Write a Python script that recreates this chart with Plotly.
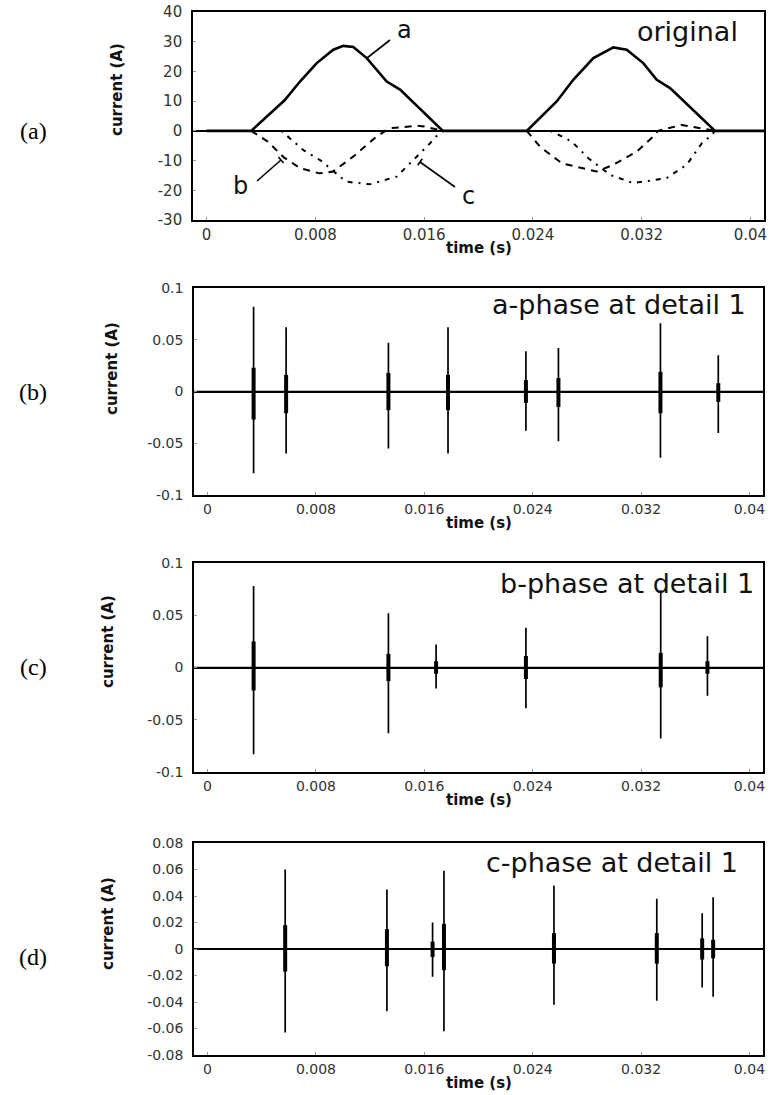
import plotly.graph_objects as go

W, H = 776, 1095

# ---------------- data ----------------
# Panel (a): original three-phase currents
a_t = [0.0, 0.00328, 0.00572, 0.00687, 0.0081, 0.00932, 0.01006, 0.01079, 0.01178,
       0.01276, 0.01325, 0.01423, 0.01738, 0.02355, 0.02575, 0.02697, 0.02845,
       0.02992, 0.0309, 0.03212, 0.03311, 0.03409, 0.0374, 0.041]
a_v = [0, 0, 10.2, 16.6, 22.8, 27.3, 28.6, 28.2, 24.5,
       19.4, 16.6, 13.9, 0, 0, 9.9, 17.2, 24.5,
       28.1, 27.3, 22.8, 17.2, 14.4, 0, 0]

b_t = [0.00328, 0.0045, 0.0057, 0.0069, 0.0083, 0.0093, 0.0108, 0.0125, 0.0135,
       0.0155, 0.0160, 0.01738, None,
       0.02355, 0.02452, 0.02612, 0.02869, 0.02992, 0.03164, 0.03286, 0.0332,
       0.03495, 0.0374]
b_v = [0, -3.6, -9.0, -12.6, -14.3, -13.7, -8.6, -1.9, 0.9,
       1.7, 1.5, 0, None,
       0, -5.3, -10.9, -13.7, -11.4, -7.0, -1.9, 0,
       2.0, 0]

c_t = [0.0055, 0.0071, 0.0084, 0.01025, 0.0120, 0.01398, 0.01643, 0.0171, 0.01738, None,
       0.0253, 0.02686, 0.02808, 0.02967, 0.03139, 0.03384, 0.03532, 0.03642, 0.03703, 0.0374]
c_v = [0, -6.4, -10.0, -17.1, -18.0, -15.4, -4.2, -0.8, 0, None,
       0, -3.6, -9.2, -14.8, -17.6, -15.9, -11.4, -4.2, -1.9, 0]

# Panel (b): a-phase at detail 1
pa_t = [0.0034, 0.0058, 0.01335, 0.01775, 0.0235, 0.0259, 0.03343, 0.0377]
pa_max = [0.082, 0.062, 0.047, 0.062, 0.039, 0.042, 0.066, 0.035]
pa_min = [-0.079, -0.060, -0.055, -0.060, -0.038, -0.048, -0.064, -0.040]
pa_cmax = [0.023, 0.016, 0.018, 0.016, 0.011, 0.013, 0.019, 0.008]
pa_cmin = [-0.027, -0.021, -0.018, -0.018, -0.011, -0.015, -0.021, -0.010]

# Panel (c): b-phase at detail 1
pb_t = [0.0034, 0.01335, 0.01687, 0.0235, 0.03345, 0.0369]
pb_max = [0.078, 0.052, 0.022, 0.038, 0.074, 0.030]
pb_min = [-0.083, -0.063, -0.020, -0.039, -0.068, -0.027]
pb_cmax = [0.025, 0.013, 0.006, 0.011, 0.014, 0.006]
pb_cmin = [-0.022, -0.013, -0.006, -0.011, -0.019, -0.006]

# Panel (d): c-phase at detail 1
pc_t = [0.00573, 0.01324, 0.01661, 0.01745, 0.02557, 0.03316, 0.03651, 0.03732]
pc_max = [0.060, 0.045, 0.020, 0.059, 0.048, 0.038, 0.027, 0.039]
pc_min = [-0.063, -0.047, -0.021, -0.062, -0.042, -0.039, -0.029, -0.036]
pc_cmax = [0.018, 0.015, 0.0055, 0.019, 0.012, 0.012, 0.008, 0.007]
pc_cmin = [-0.017, -0.013, -0.006, -0.016, -0.011, -0.011, -0.008, -0.007]

x_ticks = [0, 0.008, 0.016, 0.024, 0.032, 0.04]
x_ticktext = ["0", "0.008", "0.016", "0.024", "0.032", "0.04"]
ya_ticks = [-30, -20, -10, 0, 10, 20, 30, 40]
yb_ticks = [-0.1, -0.05, 0, 0.05, 0.1]
yb_text = ["-0.1", "-0.05", "0", "0.05", "0.1"]
yd_ticks = [-0.08, -0.06, -0.04, -0.02, 0, 0.02, 0.04, 0.06, 0.08]
yd_text = ["-0.08", "-0.06", "-0.04", "-0.02", "0", "0.02", "0.04", "0.06", "0.08"]

X_RANGE = [-0.001, 0.041]

# ---------------- layout helpers ----------------
def px(xp):
    return xp / W

def py(yp):
    return 1 - yp / H

# pixel boxes: (left, right, top, bottom)
boxes = [(193, 764, 12, 220), (194, 763, 288, 495), (194, 763, 563, 772), (194, 763, 843, 1055)]

fig = go.Figure()

def spike_trace(times, vmax, vmin, xaxis, yaxis):
    xs, ys = [X_RANGE[0]], [0]
    for t, p, n in zip(times, vmax, vmin):
        xs += [t, t, t, t]
        ys += [0, p, n, 0]
    xs.append(X_RANGE[1])
    ys.append(0)
    return go.Scatter(x=xs, y=ys, mode="lines", line=dict(color="black", width=1.7),
                      xaxis=xaxis, yaxis=yaxis, showlegend=False, hoverinfo="skip")

def core_trace(times, cmax, cmin, xaxis, yaxis):
    xs, ys = [], []
    for t, p, n in zip(times, cmax, cmin):
        xs += [t, t, None]
        ys += [p, n, None]
    return go.Scatter(x=xs, y=ys, mode="lines", line=dict(color="black", width=4),
                      xaxis=xaxis, yaxis=yaxis, showlegend=False, hoverinfo="skip")

# Panel (a) traces
fig.add_trace(go.Scatter(x=b_t, y=b_v, mode="lines", connectgaps=False,
                         line=dict(color="black", width=2, dash="7px,6px"),
                         xaxis="x", yaxis="y", showlegend=False))
fig.add_trace(go.Scatter(x=c_t, y=c_v, mode="lines", connectgaps=False,
                         line=dict(color="black", width=2, dash="2px,6px,5px,6px"),
                         xaxis="x", yaxis="y", showlegend=False))
fig.add_trace(go.Scatter(x=a_t, y=a_v, mode="lines",
                         line=dict(color="black", width=2.6),
                         xaxis="x", yaxis="y", showlegend=False))

# Panels (b)-(d)
fig.add_trace(spike_trace(pa_t, pa_max, pa_min, "x2", "y2"))
fig.add_trace(core_trace(pa_t, pa_cmax, pa_cmin, "x2", "y2"))
fig.add_trace(spike_trace(pb_t, pb_max, pb_min, "x3", "y3"))
fig.add_trace(core_trace(pb_t, pb_cmax, pb_cmin, "x3", "y3"))
fig.add_trace(spike_trace(pc_t, pc_max, pc_min, "x4", "y4"))
fig.add_trace(core_trace(pc_t, pc_cmax, pc_cmin, "x4", "y4"))

tick_font_a = dict(family="DejaVu Sans", size=15, color="#333333")
tick_font = dict(family="DejaVu Sans", size=14, color="#333333")

def xaxis_dict(i, anchor):
    l, r, t, b = boxes[i]
    return dict(domain=[px(l), px(r)], anchor=anchor, range=X_RANGE,
                tickmode="array", tickvals=x_ticks, ticktext=x_ticktext,
                showline=True, mirror=True, linecolor="black", linewidth=1.6,
                ticks="inside", ticklen=3, tickcolor="#999999",
                showgrid=False, zeroline=False, automargin=False,
                tickfont=tick_font_a if i == 0 else tick_font)

def yaxis_dict(i, anchor, rng, vals, text):
    l, r, t, b = boxes[i]
    return dict(domain=[py(b), py(t)], anchor=anchor, range=rng,
                tickmode="array", tickvals=vals, ticktext=text,
                showline=True, mirror=True, linecolor="black", linewidth=1.6,
                ticks="inside", ticklen=3, tickcolor="#999999",
                showgrid=False, zeroline=True, zerolinecolor="black", zerolinewidth=1.5,
                ticklabelstandoff=6, automargin=False,
                tickfont=tick_font_a if i == 0 else tick_font)

fig.update_layout(
    width=W, height=H,
    margin=dict(l=0, r=0, t=0, b=0, pad=0),
    paper_bgcolor="white", plot_bgcolor="white",
    showlegend=False,
    xaxis=xaxis_dict(0, "y"),
    yaxis=yaxis_dict(0, "x", [-30, 40], ya_ticks, [str(v) for v in ya_ticks]),
    xaxis2=xaxis_dict(1, "y2"),
    yaxis2=yaxis_dict(1, "x2", [-0.1, 0.1], yb_ticks, yb_text),
    xaxis3=xaxis_dict(2, "y3"),
    yaxis3=yaxis_dict(2, "x3", [-0.1, 0.1], yb_ticks, yb_text),
    xaxis4=xaxis_dict(3, "y4"),
    yaxis4=yaxis_dict(3, "x4", [-0.08, 0.08], yd_ticks, yd_text),
)

ann = []
title_font = dict(family="DejaVu Sans", size=15, color="#111111")
# x-axis titles "time (s)"
for (l, r, t, b) in boxes:
    ann.append(dict(x=px((l + r) / 2), y=py(b + 28), xref="paper", yref="paper",
                    text="<b>time (s)</b>", showarrow=False, font=title_font,
                    xanchor="center", yanchor="middle"))
# y-axis titles "current (A)"
ytitle_pos = [(117, 90), (112, 368), (108, 642), (108, 924)]
for (xx, yy) in ytitle_pos:
    ann.append(dict(x=px(xx), y=py(yy), xref="paper", yref="paper",
                    text="<b>current (A)</b>", showarrow=False, textangle=-90,
                    font=title_font, xanchor="center", yanchor="middle"))
# panel letters
letter_font = dict(family="Liberation Serif", size=24, color="black")
for lab, yy in [("(a)", 131), ("(b)", 392), ("(c)", 667), ("(d)", 957)]:
    ann.append(dict(x=px(33), y=py(yy), xref="paper", yref="paper", text=lab,
                    showarrow=False, font=letter_font, xanchor="center", yanchor="middle"))
# in-plot labels
big_font = dict(family="DejaVu Sans", size=27, color="#111111")
ann.append(dict(x=px(740), y=py(31), xref="paper", yref="paper", text="original",
                showarrow=False, font=big_font, xanchor="right", yanchor="middle"))
for lab, xr, yy in [("a-phase at detail 1", 748, 305), ("b-phase at detail 1", 756, 583),
                    ("c-phase at detail 1", 740, 862)]:
    ann.append(dict(x=px(xr), y=py(yy), xref="paper", yref="paper", text=lab,
                    showarrow=False, font=big_font, xanchor="right", yanchor="middle"))
lab_font = dict(family="DejaVu Sans", size=24, color="#111111")
for lab, xx, yy in [("a", 404, 30), ("b", 240, 186), ("c", 469, 196)]:
    ann.append(dict(x=px(xx), y=py(yy), xref="paper", yref="paper", text=lab,
                    showarrow=False, font=lab_font, xanchor="center", yanchor="middle"))
fig.update_layout(annotations=ann)

# leader lines for a, b, c labels (paper coordinates)
leaders = [((367, 58), (390, 40)), ((257, 181), (281, 160)), ((455, 187), (420, 162)),
           ((278.4, 157), (283.6, 163)), ((422.3, 158.7), (417.7, 165.3))]
shapes = []
for (x0, y0), (x1, y1) in leaders:
    shapes.append(dict(type="line", xref="paper", yref="paper",
                       x0=px(x0), y0=py(y0), x1=px(x1), y1=py(y1),
                       line=dict(color="black", width=1.6)))
fig.update_layout(shapes=shapes)

fig.write_html("out.html",
               config={"displayModeBar": False},
               post_script="document.body.style.margin='0';document.body.style.padding='0';"
                           "document.documentElement.style.overflow='hidden';")
